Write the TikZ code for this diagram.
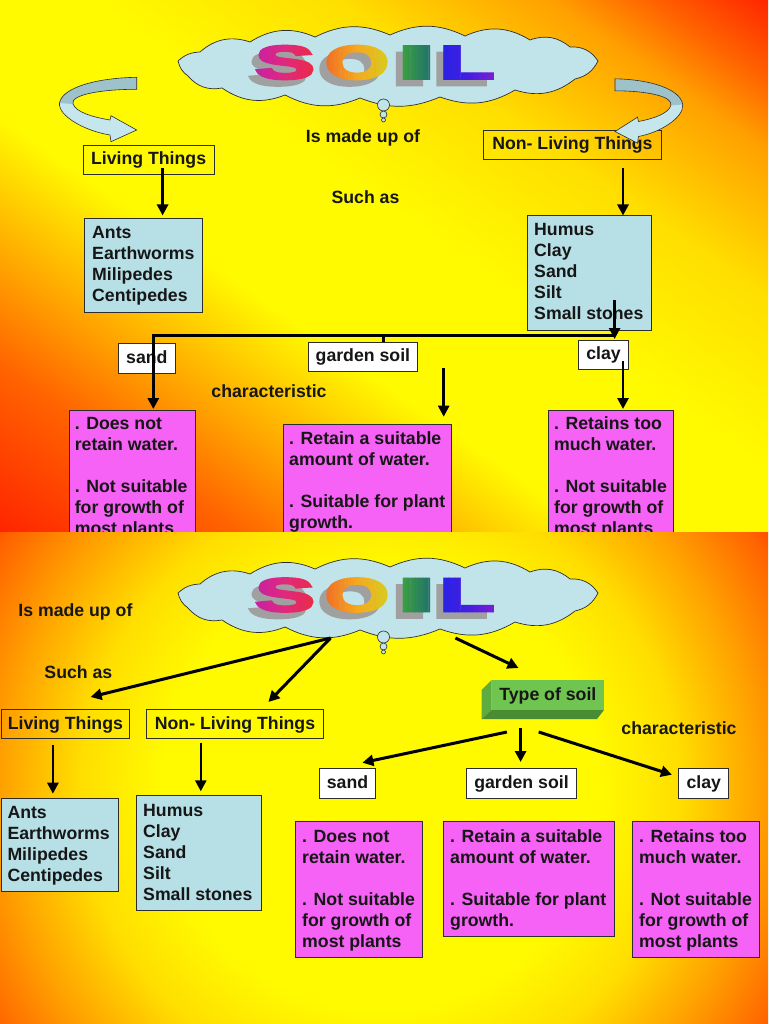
\documentclass[tikz,border=0pt]{standalone}
\usepackage{fontspec}
\setmainfont{Liberation Sans}
\newfontfamily\soilfont[FakeBold=5]{Liberation Sans Bold}
\usetikzlibrary{arrows.meta}

\definecolor{bgY}{RGB}{255,250,0}
\definecolor{bgYb}{RGB}{255,222,0}
\definecolor{bgO}{RGB}{255,160,0}
\definecolor{bgOb}{RGB}{255,100,0}
\definecolor{bgR}{RGB}{255,35,0}
\definecolor{boxblue}{RGB}{183,223,230}
\definecolor{cloudblue}{RGB}{192,228,234}
\definecolor{arrfront}{RGB}{196,230,236}
\definecolor{arrback}{RGB}{158,194,202}
\definecolor{boxpink}{RGB}{246,98,246}
\definecolor{tosfront}{RGB}{112,196,80}
\definecolor{tosside}{RGB}{92,172,64}
\definecolor{tosbottom}{RGB}{74,140,50}
\definecolor{edge}{RGB}{45,45,45}
\definecolor{inkc}{RGB}{22,22,22}
\definecolor{shadowgray}{RGB}{160,160,160}
\definecolor{rbA}{RGB}{185,30,185}
\definecolor{rbB}{RGB}{225,40,125}
\definecolor{rbC}{RGB}{235,45,60}
\definecolor{rbD}{RGB}{240,100,40}
\definecolor{rbE}{RGB}{245,170,30}
\definecolor{rbF}{RGB}{205,215,35}
\definecolor{rbG}{RGB}{60,165,60}
\definecolor{rbH}{RGB}{30,105,115}
\definecolor{rbI}{RGB}{35,35,230}
\definecolor{rbJ}{RGB}{70,30,225}
\definecolor{rbK}{RGB}{160,30,200}

\pgfdeclarehorizontalshading{slideA}{100bp}{color(0bp)=(bgR); color(25bp)=(bgR); color(33bp)=(bgOb); color(37.5bp)=(bgO); color(44.5bp)=(bgY); color(53bp)=(bgY); color(61bp)=(bgYb); color(67.8bp)=(bgO); color(71bp)=(bgOb); color(75bp)=(bgR); color(100bp)=(bgR)}
\pgfdeclareradialshading{slideB}{\pgfpoint{0bp}{0bp}}{color(0bp)=(bgY); color(11bp)=(bgY); color(15bp)=(bgYb); color(19bp)=(bgO); color(22.5bp)=(bgOb); color(25bp)=(bgR); color(50bp)=(bgR)}

\tikzset{
  txt/.style={font=\bfseries\fontsize{17.7}{21}\selectfont, text=inkc, inner sep=0pt, text height=13pt, text depth=3pt},
  lbox/.style={txt, draw=edge, line width=0.8pt},
  wbox/.style={lbox, fill=white},
  bluebox/.style={draw=edge, line width=0.8pt, fill=boxblue, anchor=north west, inner sep=0pt},
  pinkbox/.style={draw=edge, line width=0.8pt, fill=boxpink, anchor=north west, inner sep=0pt},
  tblock/.style={font=\bfseries\fontsize{17.7}{21}\selectfont, text=inkc, inner sep=0pt, anchor=north west, align=left},
  arr/.style={line width=2.6pt, draw=black, -{Triangle[length=11pt,width=11pt]}},
  bar/.style={line width=3.4pt, draw=black},
  cloudshape/.style={fill=cloudblue, draw=edge, line width=0.7pt},
  bubble/.style={circle, inner sep=0pt, fill=cloudblue, draw=edge, line width=0.6pt},
  soilshadow/.style={inner sep=0pt, text=shadowgray, font=\soilfont\fontsize{47}{47}\selectfont},
  soilfill/.style={inner sep=0pt, font=\soilfont\fontsize{47}{47}\selectfont},
  cedge/.style={draw=edge, line width=0.6pt}
}

% cloud outline, drawn at vertical offset #1
\newcommand\cloudpath[1]{%
\begin{scope}[shift={(0,#1)}]
\draw[cloudshape] (178,61) to[bend left=20] (200,52) to[bend left=30] (250,42)
  to[bend left=28] (315,37) to[bend left=25] (390,35) to[bend left=25] (465,36)
  to[bend left=28] (530,40) to[bend left=30] (570,47) to[bend left=30] (598,61)
  to[bend left=25] (575,79) to[bend left=28] (515,90) to[bend left=25] (440,97)
  to[bend left=22] (360,98) to[bend left=25] (285,95) to[bend left=28] (222,88)
  to[bend left=30] (188,76) to[bend left=20] (178,61) -- cycle;
\end{scope}}

% rainbow letters: #1 = centre y, #2 = name prefix
\newcommand\soilcolored[2]{%
\foreach \xa/\xb/\ca/\cb/\lt/\lx/\ls in {240/285/rbA/rbB/S/285/1.9, 285/320/rbB/rbC/S/285/1.9,
   320/358/rbD/rbE/O/357/1.75, 358/400/rbE/rbF/O/357/1.75,
   400/436/rbG/rbH/I/416.5/3.0,
   436/470/rbI/rbJ/L/467/1.9, 470/510/rbJ/rbK/L/467/1.9}{%
  \pgfmathtruncatemacro\nn{max(1,round((\xb-\xa)/2.5))}%
  \foreach \k in {1,...,\nn}{%
    \pgfmathsetmacro\xl{\xa+(\k-1)*(\xb-\xa)/\nn}%
    \pgfmathsetmacro\xr{\xa+\k*(\xb-\xa)/\nn+0.4}%
    \pgfmathsetmacro\pc{100*(\k-0.5)/\nn}%
    \begin{scope}
      \clip (\xl,#1-35) rectangle (\xr,#1+35);
      \node[soilfill, text=\cb!\pc!\ca] (#2\xa-\k) at (\lx,#1) {\scalebox{\ls}[1]{\lt}};
    \end{scope}
  }%
}}

\begin{document}
\begin{tikzpicture}[x=1pt,y=-1pt]
\useasboundingbox (0,0) rectangle (768,1024);

%================ TOP SLIDE =================
\begin{scope}
\clip (0,0) rectangle (768,532);
\begin{scope}[transform canvas={rotate around={55.3:(384,266)}}]
\shade[shading=slideA] (-56,-334) rectangle (824,866);
\end{scope}

% cloud
\cloudpath{0}
\node[bubble, minimum size=12pt] (bA1) at (383.5,105) {};
\node[bubble, minimum size=7pt] (bA2) at (383.5,114.5) {};
\node[bubble, minimum size=4pt] (bA3) at (383.5,120) {};
% SOIL
\node[soilshadow] (shA1) at (278,69) {\scalebox{1.9}[1]{S}};
\node[soilshadow] (shA2) at (350,69) {\scalebox{1.75}[1]{O}};
\node[soilshadow] (shA3) at (409.5,69) {\scalebox{3.0}[1]{I}};
\node[soilshadow] (shA4) at (460,69) {\scalebox{1.9}[1]{L}};
\soilcolored{62.5}{sa}

% labels
\node[txt] (madeA) at (363,137.5) {Is made up of};
\node[txt] (suchA) at (365.5,199) {Such as};
\node[txt] (charA) at (269,392) {characteristic};

% boxes
\node[lbox, minimum width=130.7pt, minimum height=29.6pt] (livA) at (148.6,160) {Living Things};
\node[lbox, minimum width=177.2pt, minimum height=28.9pt] (nonA) at (572.4,145) {Non- Living Things};
\node[bluebox, minimum width=117.6pt, minimum height=93.3pt] (antsA) at (84.2,218.2) {};
\node[tblock] (antsAt) at (92,225.2) {\rule{0pt}{13pt}Ants\\Earthworms\\Milipedes\\Centipedes};
\node[bluebox, minimum width=123.9pt, minimum height=114.3pt] (humA) at (527.4,215.5) {};
\node[tblock] (humAt) at (534,222.5) {\rule{0pt}{13pt}Humus\\Clay\\Sand\\Silt\\Small stones};
\node[wbox, minimum width=56.8pt, minimum height=29.6pt] (sandA) at (146.9,358.5) {sand};
\node[wbox, minimum width=108.7pt, minimum height=29pt] (gardA) at (362.9,356.5) {garden soil};
\node[wbox, minimum width=49.5pt, minimum height=28.9pt] (clayA) at (603.6,354.8) {clay};
\node[pinkbox, minimum width=126.4pt, minimum height=150pt] (psA) at (68.6,409.6) {};
\node[tblock] (psAt) at (74.6,416.6) {\rule{0pt}{13pt}. Does not\\retain water.\\[21pt]. Not suitable\\for growth of\\most plants};
\node[pinkbox, minimum width=168.4pt, minimum height=150pt] (pgA) at (282.6,424.2) {};
\node[tblock] (pgAt) at (289,431.2) {\rule{0pt}{13pt}. Retain a suitable\\amount of water.\\[21pt]. Suitable for plant\\growth.};
\node[pinkbox, minimum width=125.9pt, minimum height=150pt] (pcA) at (547.5,409.6) {};
\node[tblock] (pcAt) at (553.9,416.6) {\rule{0pt}{13pt}. Retains too\\much water.\\[21pt]. Not suitable\\for growth of\\most plants};

% connectors
\coordinate (a1s) at (162.6,168);   \coordinate (a1e) at (162.6,215.5);
\coordinate (a2s) at (623,168);     \coordinate (a2e) at (623,215.5);
\coordinate (brR) at (614.6,335.3); \coordinate (brL) at (153.3,335.3);
\coordinate (brS) at (153.3,409);
\coordinate (stT) at (383.4,335.3); \coordinate (stB) at (383.4,342);
\coordinate (hus) at (614.6,300.3); \coordinate (hue) at (614.6,339);
\coordinate (gas) at (443.7,368);   \coordinate (gae) at (443.7,416.7);
\coordinate (cas) at (623,361.4);   \coordinate (cae) at (623,409);
\draw[arr] (a1s) -- (a1e);
\draw[arr] (a2s) -- (a2e);
\draw[bar, -{Triangle[length=11pt,width=11pt]}] (brR) -- (brL) -- (brS);
\draw[bar] (stT) -- (stB);
\draw[arr] (hus) -- (hue);
\draw[arr] (gas) -- (gae);
\draw[arr] (cas) -- (cae);

% curved arrows
\begin{scope}
\fill[arrfront] (136.7,77.3) .. controls (95,78) and (62,88) .. (59.5,103) .. controls (58,116) and (85,131) .. (110,135) -- (111,141.7) -- (136.7,130) -- (111,115.7) -- (110,120) .. controls (92,117) and (76,112) .. (73,104) .. controls (70,95) and (100,89.3) .. (136.7,89.3) -- cycle;
\fill[arrback] (136.7,77.3) .. controls (95,78) and (62,88) .. (59.5,103) -- (73,104) .. controls (70,95) and (100,89.3) .. (136.7,89.3) -- cycle;
\draw[cedge] (136.7,77.3) .. controls (95,78) and (62,88) .. (59.5,103) .. controls (58,116) and (85,131) .. (110,135) -- (111,141.7) -- (136.7,130) -- (111,115.7) -- (110,120) .. controls (92,117) and (76,112) .. (73,104) .. controls (70,95) and (100,89.3) .. (136.7,89.3) -- cycle;
\end{scope}
\begin{scope}[shift={(734.9,1.5)}, xscale=-0.877]
\fill[arrfront] (136.7,77.3) .. controls (95,78) and (62,88) .. (59.5,103) .. controls (58,116) and (85,131) .. (110,135) -- (111,141.7) -- (136.7,130) -- (111,115.7) -- (110,120) .. controls (92,117) and (76,112) .. (73,104) .. controls (70,95) and (100,89.3) .. (136.7,89.3) -- cycle;
\fill[arrback] (136.7,77.3) .. controls (95,78) and (62,88) .. (59.5,103) -- (73,104) .. controls (70,95) and (100,89.3) .. (136.7,89.3) -- cycle;
\draw[cedge] (136.7,77.3) .. controls (95,78) and (62,88) .. (59.5,103) .. controls (58,116) and (85,131) .. (110,135) -- (111,141.7) -- (136.7,130) -- (111,115.7) -- (110,120) .. controls (92,117) and (76,112) .. (73,104) .. controls (70,95) and (100,89.3) .. (136.7,89.3) -- cycle;
\end{scope}
\end{scope}

%================ BOTTOM SLIDE =================
\begin{scope}
\clip (0,532) rectangle (768,1024);
\shade[shading=slideB] (-120,290) rectangle (880,1290);

\cloudpath{532}
\node[bubble, minimum size=12pt] (bB1) at (383.5,637) {};
\node[bubble, minimum size=7pt] (bB2) at (383.5,646.5) {};
\node[bubble, minimum size=4pt] (bB3) at (383.5,652) {};
\node[soilshadow] (shB1) at (278,601.5) {\scalebox{1.9}[1]{S}};
\node[soilshadow] (shB2) at (350,601.5) {\scalebox{1.75}[1]{O}};
\node[soilshadow] (shB3) at (409.5,601.5) {\scalebox{3.0}[1]{I}};
\node[soilshadow] (shB4) at (460,601.5) {\scalebox{1.9}[1]{L}};
\soilcolored{595}{sb}

\node[txt] (madeB) at (75.4,611.5) {Is made up of};
\node[txt] (suchB) at (78.4,673.7) {Such as};
\node[txt] (charB) at (679,729.7) {characteristic};

\node[lbox, minimum width=128.8pt, minimum height=28.3pt] (livB) at (65.4,724) {Living Things};
\node[lbox, minimum width=176.3pt, minimum height=28.3pt] (nonB) at (235,724) {Non- Living Things};
\node[bluebox, minimum width=116.5pt, minimum height=93.3pt] (antsB) at (1,797.7) {};
\node[tblock] (antsBt) at (7.3,805) {\rule{0pt}{13pt}Ants\\Earthworms\\Milipedes\\Centipedes};
\node[bluebox, minimum width=124.5pt, minimum height=115pt] (humB) at (136,795.3) {};
\node[tblock] (humBt) at (143,803) {\rule{0pt}{13pt}Humus\\Clay\\Sand\\Silt\\Small stones};

% type of soil block
\fill[tosside] (481.7,690) -- (491.7,680) -- (491.7,710) -- (481.7,719) -- cycle;
\fill[tosbottom] (481.7,719) -- (491.7,710) -- (604,710) -- (597,719) -- cycle;
\node[txt, fill=tosfront, minimum width=112.3pt, minimum height=30pt] (tos) at (547.85,695) {Type of soil};

\node[wbox, minimum width=56.3pt, minimum height=30pt] (sandB) at (347.5,783) {sand};
\node[wbox, minimum width=110.7pt, minimum height=30pt] (gardB) at (521.5,783) {garden soil};
\node[wbox, minimum width=49.9pt, minimum height=30pt] (clayB) at (703.8,783) {clay};

\node[pinkbox, minimum width=126.8pt, minimum height=136.5pt] (psB) at (295.3,820.5) {};
\node[tblock] (psBt) at (302,829) {\rule{0pt}{13pt}. Does not\\retain water.\\[21pt]. Not suitable\\for growth of\\most plants};
\node[pinkbox, minimum width=170.9pt, minimum height=115.5pt] (pgB) at (442.7,820.5) {};
\node[tblock] (pgBt) at (450,829) {\rule{0pt}{13pt}. Retain a suitable\\amount of water.\\[21pt]. Suitable for plant\\growth.};
\node[pinkbox, minimum width=126.8pt, minimum height=136.5pt] (pcB) at (632.2,820.5) {};
\node[tblock] (pcBt) at (639,829) {\rule{0pt}{13pt}. Retains too\\much water.\\[21pt]. Not suitable\\for growth of\\most plants};

\coordinate (b0) at (330.6,638);
\coordinate (b1) at (90.6,697);
\coordinate (b2) at (268.4,702);
\coordinate (b3s) at (455.4,638); \coordinate (b3e) at (518.5,668);
\coordinate (b4s) at (52.9,745.3); \coordinate (b4e) at (52.9,793.7);
\coordinate (b5s) at (200.8,742.7); \coordinate (b5e) at (200.8,791.3);
\coordinate (b6s) at (506.9,732); \coordinate (b6e) at (362.4,762.7);
\coordinate (b7s) at (520.6,728); \coordinate (b7e) at (520.6,762);
\coordinate (b8s) at (538.7,732); \coordinate (b8e) at (671.9,774.7);
\draw[arr, line width=3pt] (b0) -- (b1);
\draw[arr, line width=3pt] (b0) -- (b2);
\draw[arr, line width=3pt] (b3s) -- (b3e);
\draw[arr] (b4s) -- (b4e);
\draw[arr] (b5s) -- (b5e);
\draw[arr, line width=3pt] (b6s) -- (b6e);
\draw[arr, line width=3pt] (b7s) -- (b7e);
\draw[arr, line width=3pt] (b8s) -- (b8e);
\end{scope}
\end{tikzpicture}
\end{document}
